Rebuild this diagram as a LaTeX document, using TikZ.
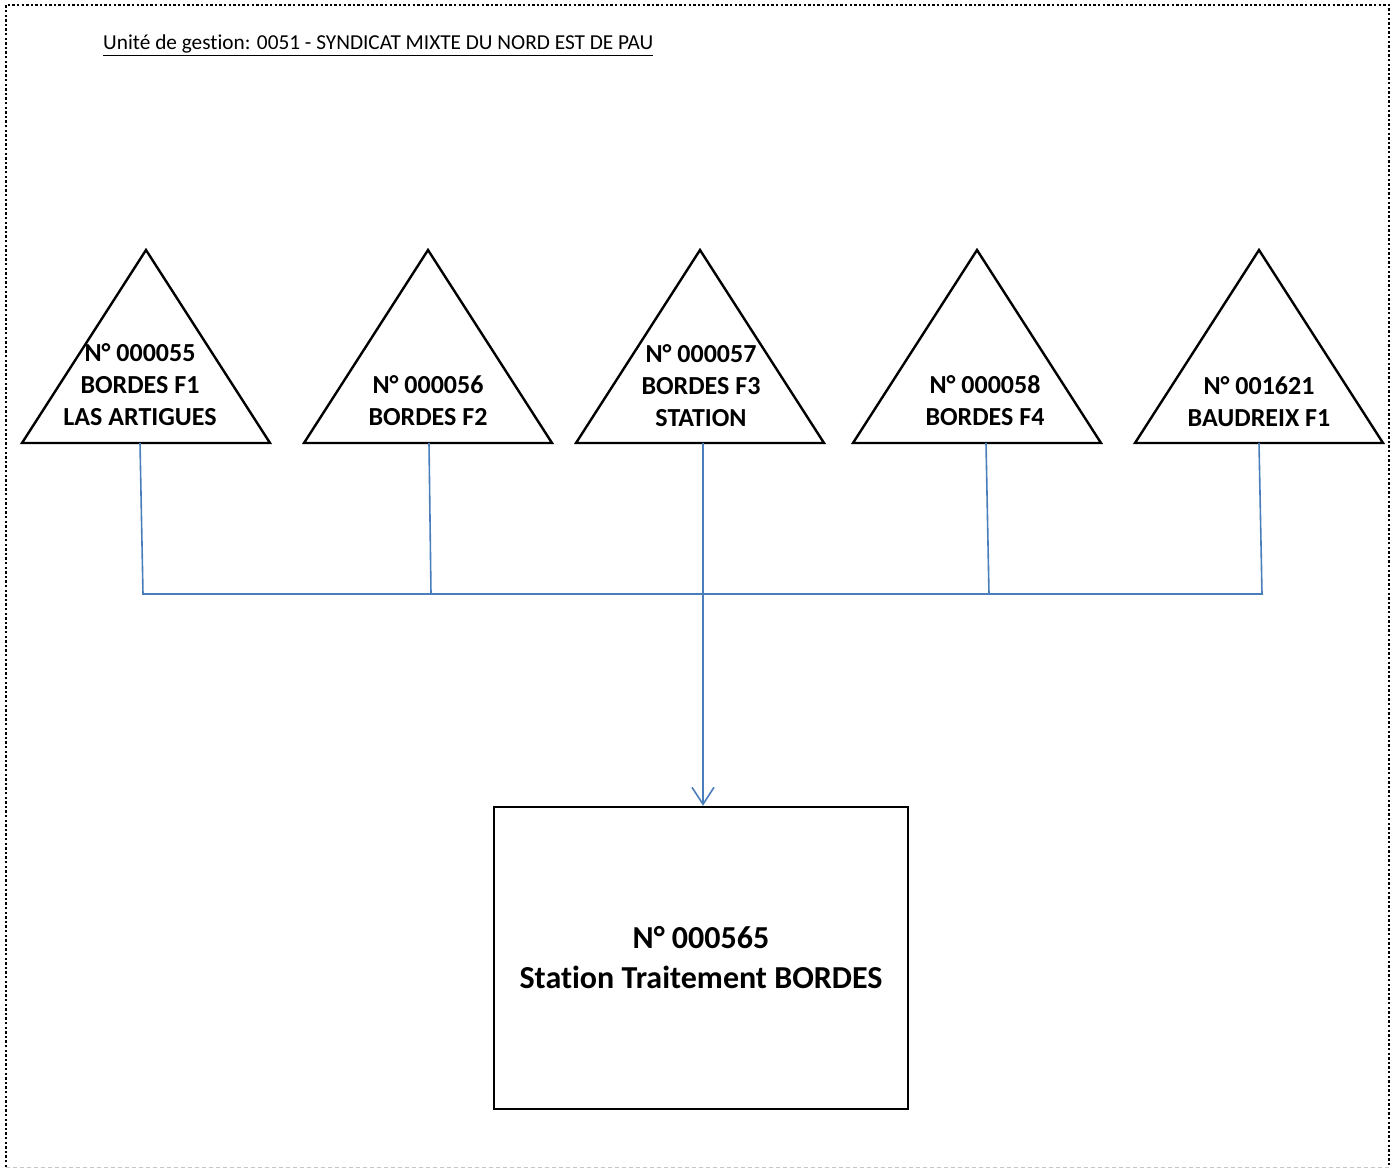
\documentclass[tikz,border=0pt]{standalone}
\usepackage{fontspec}
\setmainfont{Carlito}[Ligatures=NoCommon]
\usetikzlibrary{arrows.meta}
\definecolor{linkblue}{RGB}{74,126,187}
\tikzset{
  tri/.style={draw=black, line width=2.4pt, line join=miter},
  trilabel/.style={align=center, font=\fontsize{26}{32}\selectfont\bfseries, inner sep=0pt},
  link/.style={draw=linkblue, line width=1.6pt},
  stationbox/.style={draw=black, line width=2.4pt, minimum width=414pt, minimum height=302pt, inner sep=0pt}
}
\begin{document}
\begin{tikzpicture}[x=1pt,y=-1pt]
    \useasboundingbox (0,0) rectangle (1393,1169);

    % frame
    \draw[line width=2.6pt, dash pattern=on 2.4pt off 2.2pt] (6,1167) -- (6,5) -- (1389,5) -- (1389,1167);
    \draw[gray!45, line width=1pt, dash pattern=on 4pt off 3pt] (6,1167) -- (1389,1167);

    \node[anchor=base west, inner sep=0pt, font=\fontsize{21.3}{25}\selectfont] (title) at (103,50)
        {\underline{Unité de gestion: 0051 - SYNDICAT MIXTE DU NORD EST DE PAU}};

    % triangles
    \foreach \x in {146,428,700,977,1259} {
            \draw[tri] (\x-124,443) -- (\x,250) -- (\x+124,443) -- cycle;
        }

    \node[trilabel] (w1) at (140,385) {N° 000055\\BORDES F1\\LAS ARTIGUES};
    \node[trilabel] (w2) at (428,401) {N° 000056\\BORDES F2};
    \node[trilabel] (w3) at (701,386) {N° 000057\\BORDES F3\\STATION};
    \node[trilabel] (w4) at (985,401) {N° 000058\\BORDES F4};
    \node[trilabel] (w5) at (1259,402) {N° 001621\\BAUDREIX F1};

    % station
    \node[stationbox] (station) at (701,958) {};
    \node[align=center, font=\fontsize{32}{40}\selectfont\bfseries] (stname) at (station)
        {N° 000565\\Station Traitement BORDES};

    % links
    \coordinate (b1) at (140,443);
    \coordinate (b2) at (429,443);
    \coordinate (b3) at (703,443);
    \coordinate (b4) at (986,443);
    \coordinate (b5) at (1259,443);

    \coordinate (j1) at (143,594);
    \coordinate (j2) at (431,594);
    \coordinate (j4) at (989,594);
    \coordinate (j5) at (1262,594);

    \begin{scope}[link]
        \draw (b1) -- (j1) -- (j5) -- (b5);
        \draw (b2) -- (j2);
        \draw (b4) -- (j4);
        \draw[-{Straight Barb[length=17pt,width=22pt]}] (b3) -- (b3 |- station.north);
    \end{scope}
\end{tikzpicture}
\end{document}
